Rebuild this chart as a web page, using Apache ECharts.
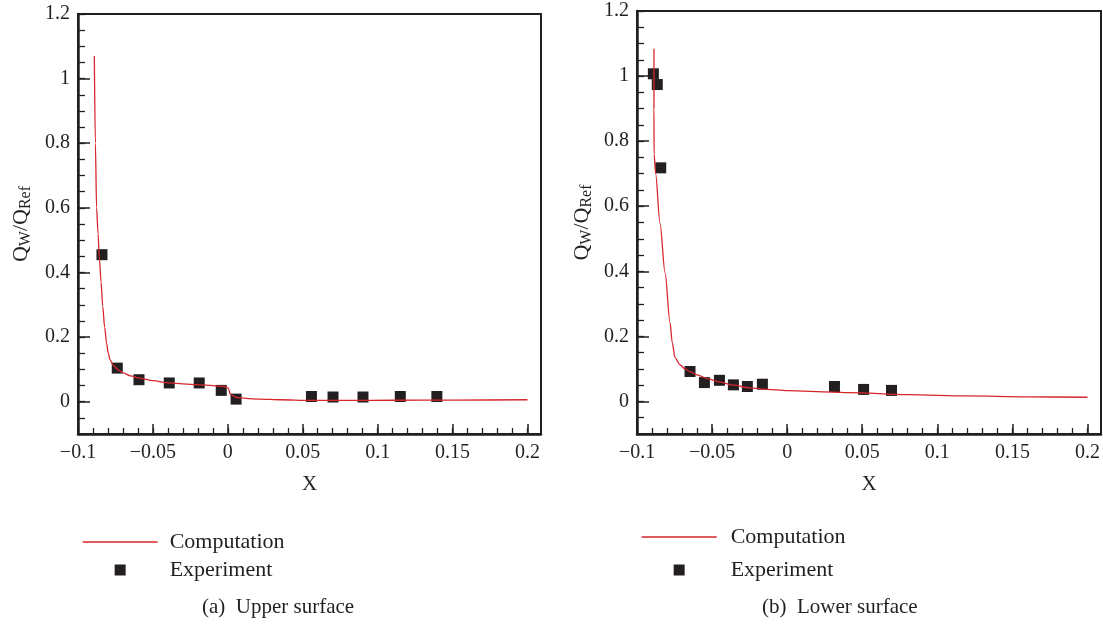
<!DOCTYPE html>
<html>
<head>
<meta charset="utf-8">
<script src="https://cdn.jsdelivr.net/npm/echarts@6/dist/echarts.min.js"></script>
<style>
html,body{margin:0;padding:0;background:#fff;}
#c{width:1103px;height:625px;}
</style>
</head>
<body>
<div id="c"></div>
<script>
// ---- data ----
const upperCompX = [-0.0891,-0.0884,-0.0876,-0.0866,-0.0858,-0.0846,-0.0835,-0.0822,-0.0809,-0.0798,-0.0787,-0.0764,-0.0730,-0.0698,-0.0650,-0.0593,-0.0500,-0.0391,-0.0300,-0.0191,-0.0100,-0.0020,0.0002,0.0018,0.0058,0.0120,0.0213,0.0350,0.0547,0.0800,0.1100,0.1500,0.2000];
const upperCompY = [1.07,0.80,0.60,0.52,0.449,0.37,0.295,0.23,0.18,0.15,0.13,0.112,0.098,0.089,0.080,0.073,0.065,0.058,0.055,0.052,0.050,0.047,0.042,0.022,0.013,0.010,0.008,0.006,0.004,0.004,0.0045,0.005,0.006];
const upperExpX = [-0.0840,-0.0738,-0.0593,-0.0391,-0.0191,-0.0044,0.0055,0.0558,0.0702,0.0902,0.1151,0.1395];
const upperExpY = [0.455,0.104,0.068,0.058,0.058,0.035,0.008,0.016,0.0145,0.0145,0.016,0.016];

const lowerCompX = [-0.0887,-0.0887,-0.0886,-0.0876,-0.0847,-0.0813,-0.0780,-0.0765,-0.0747,-0.0713,-0.0680,-0.0647,-0.0600,-0.0530,-0.0450,-0.0358,-0.0250,-0.0160,-0.0050,0.0000,0.0300,0.0420,0.0800,0.1200,0.1600,0.2000];
const lowerCompY = [1.084,0.90,0.76,0.70,0.548,0.395,0.242,0.18,0.135,0.112,0.100,0.092,0.082,0.070,0.060,0.050,0.042,0.038,0.035,0.033,0.029,0.027,0.021,0.017,0.014,0.013];
const lowerExpX = [-0.0891,-0.0865,-0.0842,-0.0647,-0.0551,-0.0451,-0.0358,-0.0265,-0.0165,0.0315,0.0509,0.0695];
const lowerExpY = [1.007,0.974,0.718,0.092,0.058,0.065,0.051,0.046,0.053,0.046,0.037,0.034];

const xTickLabels = [-0.1,-0.05,0,0.05,0.1,0.15,0.2];
const yTickLabels = [0,0.2,0.4,0.6,0.8,1,1.2];
const xMinorTicks = [];
for (let i = -10; i <= 20; i++) xMinorTicks.push(i / 100);
const yMinorTicks = [];
for (let i = -2; i <= 24; i++) yMinorTicks.push(i / 20);

const seriesNames = ['Computation','Experiment'];
const captions = ['(a)  Upper surface','(b)  Lower surface'];

// ---- styles ----
const FONT = 'Liberation Serif';
const INK = '#231f20';
const RED = '#d7262c';
const zip = (a,b) => a.map((v,i)=>[v,b[i]]);
const fmt = v => (v < 0 ? '\u2212' + Math.abs(v) : String(v));

function xAxes(gi){
  return [
    { type:'value', gridIndex:gi, min:-0.1, max:0.209, position:'bottom',
      axisLine:{onZero:false, lineStyle:{color:INK, width:2.5}},
      axisTick:{inside:true, length:10, customValues:xTickLabels, lineStyle:{color:INK, width:1.5}},
      axisLabel:{customValues:xTickLabels, formatter:fmt, color:INK, fontFamily:FONT, fontSize:20, margin:9},
      splitLine:{show:false},
      name:'X', nameLocation:'middle', nameGap:40,
      nameTextStyle:{color:INK, fontFamily:FONT, fontSize:21}
    },
    { type:'value', gridIndex:gi, min:-0.1, max:0.209, position:'bottom',
      axisLine:{show:false, onZero:false},
      axisTick:{inside:true, length:6, customValues:xMinorTicks, lineStyle:{color:INK, width:1.3}},
      axisLabel:{show:false}, splitLine:{show:false}
    }
  ];
}
function yAxes(gi, gap){
  return [
    { type:'value', gridIndex:gi, min:-0.1, max:1.2, position:'left',
      axisLine:{onZero:false, lineStyle:{color:INK, width:2.5}},
      axisTick:{inside:true, length:12, customValues:yTickLabels, lineStyle:{color:INK, width:1.5}},
      axisLabel:{customValues:yTickLabels, formatter:fmt, color:INK, fontFamily:FONT, fontSize:20, margin:8},
      splitLine:{show:false},
      name:'{q|Q}{s|W}{q|/Q}{s|Ref}', nameLocation:'middle', nameGap:gap, nameRotate:90,
      nameTextStyle:{color:INK, fontFamily:FONT, rich:{
        q:{fontFamily:FONT, fontSize:22, color:INK, lineHeight:24, verticalAlign:'top'},
        s:{fontFamily:FONT, fontSize:16, color:INK, lineHeight:24, verticalAlign:'bottom'}
      }}
    },
    { type:'value', gridIndex:gi, min:-0.1, max:1.2, position:'left',
      axisLine:{show:false, onZero:false},
      axisTick:{inside:true, length:7, customValues:yMinorTicks, lineStyle:{color:INK, width:1.3}},
      axisLabel:{show:false}, splitLine:{show:false}
    }
  ];
}

function legend(left, top, gap, pad){
  return { orient:'vertical', left:left, top:top, padding:0, itemGap:gap,
    itemWidth:75, itemHeight:11, selectedMode:false, symbolKeepAspect:true,
    data:[
      {name:seriesNames[0], itemStyle:{opacity:0}, lineStyle:{color:RED, width:1.3}},
      {name:seriesNames[1], icon:'path://M0,0L10,0L10,10L0,10Z', itemStyle:{color:INK}}
    ],
    textStyle:{color:INK, fontFamily:FONT, fontSize:22, lineHeight:20, padding:[0,0,0,pad]} };
}

const lineStyleComp = {color:RED, width:1.3};
const option = {
  animation:false,
  backgroundColor:'#fff',
  grid:[
    {left:78, right:562, top:14, bottom:191, show:true, borderColor:INK, borderWidth:2},
    {left:637, right:2, top:11, bottom:191, show:true, borderColor:INK, borderWidth:2}
  ],
  xAxis:[...xAxes(0), ...xAxes(1)],
  yAxis:[...yAxes(0, 44), ...yAxes(1, 42)],
  legend:[legend(82, 531, 6, 7), legend(641, 526, 11, 9)],
  title:[
    {text:captions[0], left:202, top:597, padding:0, textStyle:{color:INK, fontFamily:FONT, fontSize:21, fontWeight:'normal'}},
    {text:captions[1], left:762, top:597, padding:0, textStyle:{color:INK, fontFamily:FONT, fontSize:21, fontWeight:'normal'}}
  ],
  series:[
    {name:seriesNames[0], type:'line', xAxisIndex:0, yAxisIndex:0, data:zip(upperCompX, upperCompY),
      symbol:'none', smooth:0.3, smoothMonotone:'x', lineStyle:lineStyleComp, itemStyle:{color:RED}},
    {name:seriesNames[1], type:'scatter', xAxisIndex:0, yAxisIndex:0, data:zip(upperExpX, upperExpY),
      symbol:'rect', symbolSize:11, itemStyle:{color:INK, opacity:1}},
    {name:seriesNames[0], type:'line', xAxisIndex:2, yAxisIndex:2, data:zip(lowerCompX, lowerCompY),
      symbol:'none', smooth:0.3, smoothMonotone:'x', lineStyle:lineStyleComp, itemStyle:{color:RED}},
    {name:seriesNames[1], type:'scatter', xAxisIndex:2, yAxisIndex:2, data:zip(lowerExpX, lowerExpY),
      symbol:'rect', symbolSize:11, itemStyle:{color:INK, opacity:1}}
  ]
};
const chart = echarts.init(document.getElementById('c'), null, {renderer:'canvas'});
chart.setOption(option);
</script>
</body>
</html>
